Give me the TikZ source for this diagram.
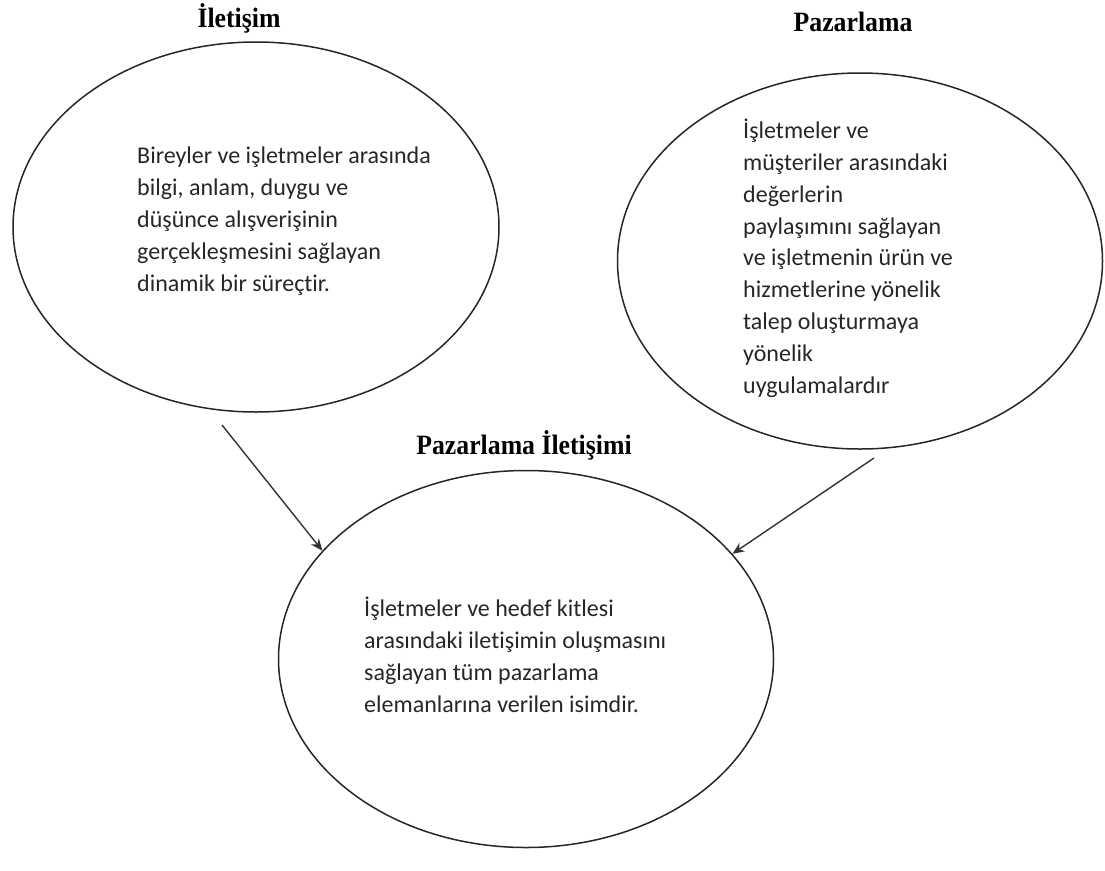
\documentclass[tikz,border=0pt]{standalone}
\usepackage{fontspec}
\setmainfont[Ligatures=NoCommon]{Carlito}
\newfontfamily\titlefont{Liberation Serif}
\usetikzlibrary{shapes.geometric,arrows.meta}
\newcommand{\narrow}[1]{\scalebox{0.92}[1]{#1}}

\begin{document}
\begin{tikzpicture}[
  x=1pt, y=-1pt,
  oval/.style={
    draw=black!85, line width=1.5pt, ellipse, inner sep=0pt
  },
  body/.style={
    anchor=north west, inner sep=0pt, align=left,
    font=\fontsize{24}{31.8}\selectfont, text=black!85
  },
  title/.style={font=\titlefont\bfseries\fontsize{28}{32}\selectfont},
  arr/.style={-{Stealth[length=12pt, width=10pt]}, line width=1.4pt, black!80}
]
\useasboundingbox (0,0) rectangle (1105,870);

%% ── OVALS ──
\node[oval, minimum width=486pt, minimum height=370pt] (iletisim) at (256,227) {};
\node[oval, minimum width=485pt, minimum height=376pt] (pazarlama) at (860,261) {};
\node[oval, minimum width=495pt, minimum height=377pt] (pazIlet) at (526,659) {};

%% ── TITLES ──
\node[title] (tIletisim) at (239,18) {\narrow{İletişim}};
\node[title] (tPazarlama) at (853,22) {\narrow{Pazarlama}};
\node[title] (tPazIlet) at (524,445) {\narrow{Pazarlama İletişimi}};

%% ── TEXTS ──
\node[body] (xIletisim) at (137,147) {
  Bireyler ve işletmeler arasında\\
  bilgi, anlam, duygu ve\\
  düşünce alışverişinin\\
  gerçekleşmesini sağlayan\\
  dinamik bir süreçtir.
};
\node[body] (xPazarlama) at (743,119) {
  İşletmeler ve\\
  müşteriler arasındaki\\
  değerlerin\\
  paylaşımını sağlayan\\
  ve işletmenin ürün ve\\
  hizmetlerine yönelik\\
  talep oluşturmaya\\
  yönelik\\
  uygulamalardır
};
\node[body] (xPazIlet) at (364,597) {
  İşletmeler ve hedef kitlesi\\
  arasındaki iletişimin oluşmasını\\
  sağlayan tüm pazarlama\\
  elemanlarına verilen isimdir.
};

%% ── ARROWS ──
\coordinate (from1) at (222,425);
\coordinate (from2) at (874,458);
\draw[arr] (from1) -- (pazIlet.152);
\draw[arr] (from2) -- (pazIlet.27);

\end{tikzpicture}
\end{document}
